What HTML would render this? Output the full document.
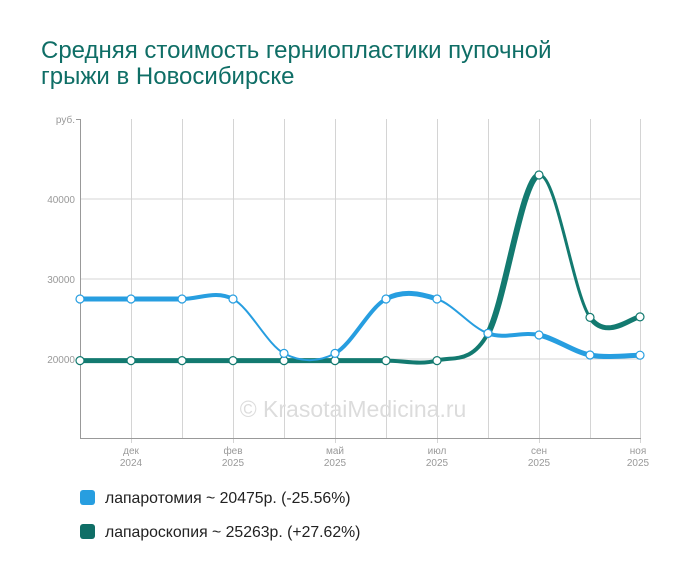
<!DOCTYPE html>
<html><head><meta charset="utf-8"><style>
body{margin:0;background:#fff;width:700px;height:582px;overflow:hidden;font-family:"Liberation Sans",sans-serif}
.t{position:absolute;left:41px;top:38px;font-size:24px;color:#0f6e66;line-height:26px;width:540px}
.lg{position:absolute;left:80px;font-size:15.8px;color:#222}
.lg i{display:inline-block;width:15px;height:15px;border-radius:3px;vertical-align:-2px;margin-right:10px}
</style></head><body>
<div class="t">Средняя стоимость герниопластики пупочной грыжи в Новосибирске</div>
<svg id="s" width="700" height="582" style="position:absolute;left:0;top:0" font-family="Liberation Sans, sans-serif">
<g stroke="#d4d4d4" stroke-width="1">
<line x1="80" y1="199" x2="640" y2="199"/><line x1="80" y1="279" x2="640" y2="279"/><line x1="80" y1="359" x2="640" y2="359"/>
</g>
<g id="vg" stroke="#d4d4d4"></g>
<line x1="80.5" y1="119" x2="80.5" y2="439" stroke="#999"/>
<line x1="76" y1="119.5" x2="80" y2="119.5" stroke="#999"/>
<line x1="80" y1="438.5" x2="641" y2="438.5" stroke="#999"/>
<g font-size="10" fill="#999" text-anchor="end">
<text x="75" y="123">руб.</text><text x="75" y="203">40000</text><text x="75" y="283">30000</text><text x="75" y="363">20000</text>
</g>
<g font-size="10" fill="#999" text-anchor="middle">
<text x="131" y="454">дек</text><text x="131" y="466">2024</text>
<text x="233" y="454">фев</text><text x="233" y="466">2025</text>
<text x="335" y="454">май</text><text x="335" y="466">2025</text>
<text x="437" y="454">июл</text><text x="437" y="466">2025</text>
<text x="539" y="454">сен</text><text x="539" y="466">2025</text>
<text x="638" y="454">ноя</text><text x="638" y="466">2025</text>
</g>
<text x="353" y="417" font-size="23" fill="#dcdcdc" text-anchor="middle">© KrasotaiMedicina.ru</text>
<g id="lines"></g>
</svg>
<div class="lg" style="top:490px"><i style="background:#279ee0"></i>лапаротомия ~ 20475р. (-25.56%)</div>
<div class="lg" style="top:524px"><i style="background:#0f6e66"></i>лапароскопия ~ 25263р. (+27.62%)</div>
<script>
var X=[80,131,182,233,284,335,386,437,488,539,590,640];
function Y(v){return 439-(v-10000)*0.008;}
var B=[27500,27500,27500,27500,20700,20700,27500,27500,23200,23000,20500,20475];
var G=[19800,19800,19800,19800,19800,19800,19800,19800,23200,43000,25200,25263];
var bw=[5,5,4,2,2,4,5,2,4,5,5],gw=[5,5,5,5,5,5,4,4,6,3,5];
var ns="http://www.w3.org/2000/svg",L=document.getElementById('lines'),vg=document.getElementById('vg');
for(var i=1;i<X.length;i++){var l=document.createElementNS(ns,'line');l.setAttribute('x1',X[i]+.5);l.setAttribute('x2',X[i]+.5);l.setAttribute('y1',119);l.setAttribute('y2',i%2?443:438);vg.appendChild(l);}
function draw(V,W,c){var P=V.map(function(v,i){return [X[i],Y(v)]});
for(var i=0;i<P.length-1;i++){var p0=P[Math.max(i-1,0)],p1=P[i],p2=P[i+1],p3=P[Math.min(i+2,P.length-1)];
var c1=[p1[0]+(p2[0]-p0[0])/6,p1[1]+(p2[1]-p0[1])/6],c2=[p2[0]-(p3[0]-p1[0])/6,p2[1]-(p3[1]-p1[1])/6];
var pa=document.createElementNS(ns,'path');pa.setAttribute('d','M'+p1+'C'+c1+' '+c2+' '+p2);pa.setAttribute('fill','none');pa.setAttribute('stroke',c);pa.setAttribute('stroke-width',W[i]);pa.setAttribute('stroke-linecap','round');L.appendChild(pa);}
P.forEach(function(p){var ci=document.createElementNS(ns,'circle');ci.setAttribute('cx',p[0]);ci.setAttribute('cy',p[1]);ci.setAttribute('r',4);ci.setAttribute('fill','#fff');ci.setAttribute('stroke',c);ci.setAttribute('stroke-width',1.2);L.appendChild(ci);});}
draw(G,gw,'#137a70');draw(B,bw,'#279ee0');
</script>
</body></html>
